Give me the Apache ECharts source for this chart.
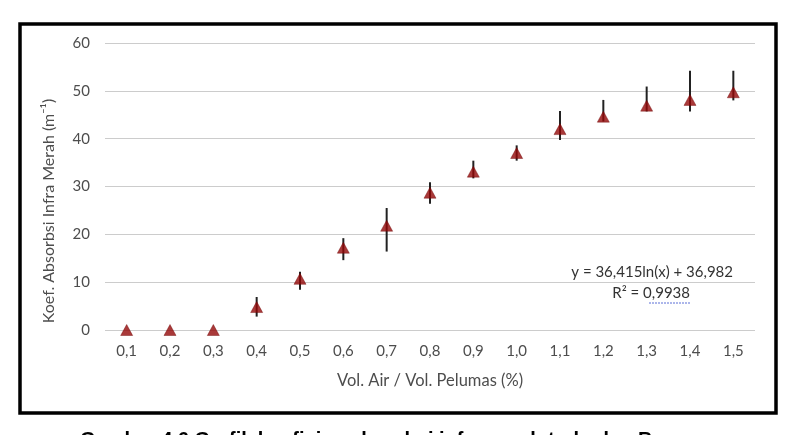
<!DOCTYPE html>
<html>
  <head>
    <title></title>
    <meta charset="UTF-8" />
    <script src="https://cdn.jsdelivr.net/npm/echarts@6/dist/echarts.min.js"></script>
  </head>
  <body style="margin:0;background:#fff">
    <div id="main"></div>
    <script>
      const width = 791;
      const height = 435;
      const main = document.getElementById('main');
      main.style.width = `${width}px`;
      main.style.height = `${height}px`;

      // data
      const categories = ['0,1', '0,2', '0,3', '0,4', '0,5', '0,6', '0,7', '0,8', '0,9', '1,0', '1,1', '1,2', '1,3', '1,4', '1,5'];
      const absorbsi = [0, 0, 0, 4.8, 10.7, 17.2, 21.8, 28.7, 33.1, 37.0, 42.0, 44.6, 46.9, 48.1, 49.7];
      const errLow = [0, 0, 0, 2.8, 8.4, 14.6, 16.4, 26.4, 31.7, 35.4, 39.7, 43.6, 45.7, 45.7, 48.0];
      const errHigh = [0, 0, 0, 6.9, 12.2, 19.2, 25.5, 30.9, 35.4, 38.6, 45.8, 48.1, 50.9, 54.2, 54.2];
      const yTicks = [0, 10, 20, 30, 40, 50, 60];

      const font = 'Lato, "Open Sans", sans-serif';

      const myChart = echarts.init(main);
      const option = {
        backgroundColor: '#fff',
        animation: false,
        grid: { left: 105, right: 36, top: 43, bottom: 105 },
        xAxis: {
          type: 'category',
          data: categories,
          axisLine: { show: false },
          axisTick: { show: false },
          axisLabel: { color: '#4d4d4d', fontSize: 15, fontFamily: font, margin: 14 },
          name: 'Vol. Air / Vol. Pelumas (%)',
          nameLocation: 'middle',
          nameGap: 42,
          nameTextStyle: { color: '#4d4d4d', fontSize: 16.5, fontFamily: font },
        },
        yAxis: {
          type: 'value',
          min: yTicks[0],
          max: yTicks[yTicks.length - 1],
          interval: 10,
          axisLine: { show: false },
          axisTick: { show: false },
          axisLabel: { color: '#4d4d4d', fontSize: 15, fontFamily: font, margin: 15 },
          splitLine: { lineStyle: { color: '#cccccc', width: 1 } },
        },
        graphic: [
          {
            type: 'rect',
            shape: { x: 20, y: 24, width: 756, height: 389 },
            style: { fill: 'none', stroke: '#000', lineWidth: 3.5 },
            z: 100,
          },
          {
            type: 'text',
            x: 49,
            y: 211,
            rotation: Math.PI / 2,
            style: {
              text: 'Koef. Absorbsi Infra Merah (m⁻¹)',
              fill: '#4d4d4d',
              font: `16px ${font}`,
              align: 'center',
              verticalAlign: 'middle',
            },
          },
          {
            type: 'text',
            x: 733,
            y: 272,
            style: {
              text: 'y = 36,415ln(x) + 36,982',
              fill: '#333',
              font: `15px ${font}`,
              align: 'right',
              verticalAlign: 'middle',
            },
          },
          {
            type: 'text',
            x: 690,
            y: 293,
            style: {
              text: 'R² = 0,9938',
              fill: '#333',
              font: `15px ${font}`,
              align: 'right',
              verticalAlign: 'middle',
            },
          },
          {
            type: 'line',
            shape: { x1: 649, y1: 303, x2: 690, y2: 303 },
            style: { stroke: '#5b6fd6', lineWidth: 1, lineDash: [2, 1] },
          },
          {
            type: 'text',
            x: 80,
            y: 430,
            style: {
              text: 'Gambar 4.6 Grafik koefisien absorbsi inframerah terhadap B',
              fill: '#000',
              font: `bold 20px "Liberation Sans", Arial, sans-serif`,
              verticalAlign: 'top',
            },
          },
        ],
        series: [
          {
            type: 'custom',
            name: 'error',
            data: categories.map((c, i) => [i, errLow[i], errHigh[i]]),
            renderItem: (params, api) => {
              const lo = api.coord([api.value(0), api.value(1)]);
              const hi = api.coord([api.value(0), api.value(2)]);
              return {
                type: 'line',
                shape: { x1: lo[0], y1: lo[1], x2: hi[0], y2: hi[1] },
                style: { stroke: '#222', lineWidth: 2 },
              };
            },
            z: 2,
          },
          {
            type: 'scatter',
            name: 'absorbsi',
            data: absorbsi,
            symbol: 'triangle',
            symbolSize: [12, 11],
            itemStyle: { color: '#940808', borderColor: '#6e0000', borderWidth: 0.5 },
            z: 3,
          },
        ],
      };
      myChart.setOption(option);
    </script>
  </body>
</html>
